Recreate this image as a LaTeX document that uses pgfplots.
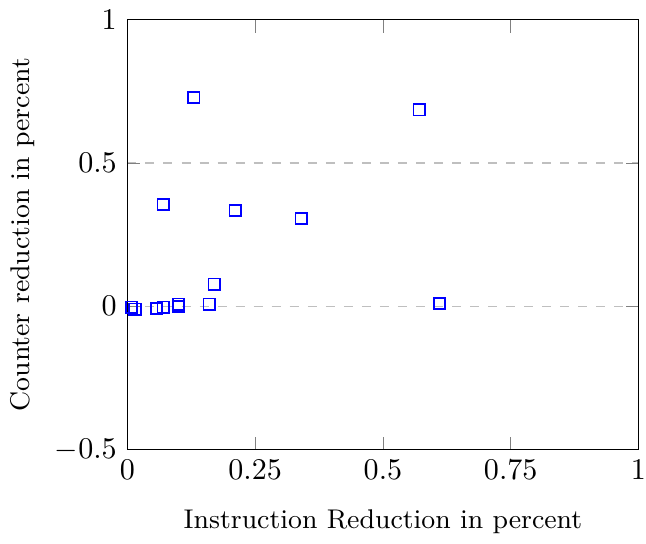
\documentclass[border=0pt]{standalone}
\usepackage{pgfplots}
\pgfplotsset{compat=1.18}
\begin{document}
\begin{tikzpicture}
\begin{axis}[
    scale only axis,
    width=170pt, height=143pt,
    xmin=0, xmax=1, ymin=-0.5, ymax=1,
    xtick={0,0.25,0.5,0.75,1},
    ytick={-0.5,0,0.5,1},
    xticklabel style={inner xsep=0pt},
    xlabel={Instruction Reduction in percent},
    ylabel={Counter reduction in percent},
    label style={font=\small},
    xlabel style={yshift=-3pt},
    ymajorgrids=true,
    grid style={dashed, gray!50},
]
\addplot[only marks, blue, mark=square, mark size=1.9pt,
    mark options={solid, line width=0.6pt}] coordinates {
    (0.130, 0.728)
    (0.571, 0.686)
    (0.070, 0.355)
    (0.211, 0.334)
    (0.340, 0.307)
    (0.170, 0.077)
    (0.611, 0.010)
    (0.160, 0.007)
    (0.100, 0.007)
    (0.100, 0.000)
    (0.070, -0.003)
    (0.057, -0.007)
    (0.008, -0.003)
    (0.015, -0.010)
};
\end{axis}
\end{tikzpicture}
\end{document}
